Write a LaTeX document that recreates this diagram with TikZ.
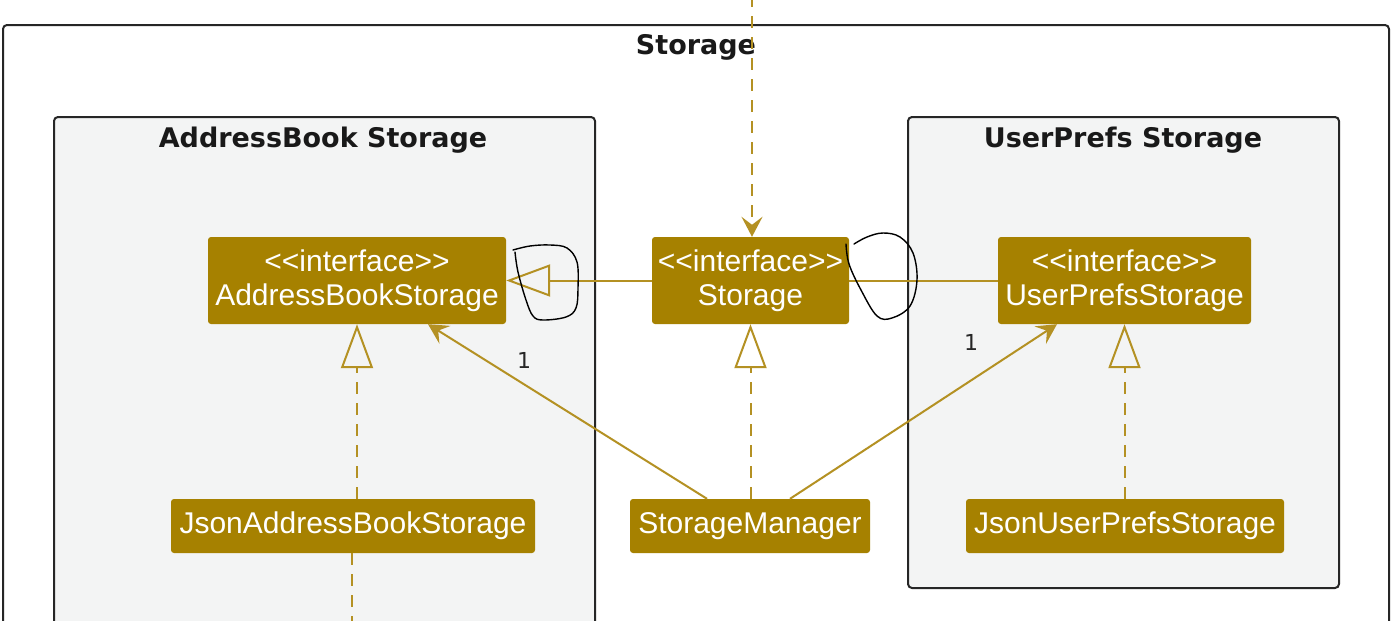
\documentclass[tikz,border=0pt]{standalone}
\usepackage{fontspec}
\setmainfont{Liberation Sans}[Ligatures=TeXOff]
\newfontfamily\ttlfont{DejaVu Sans}
\usetikzlibrary{arrows.meta}
\definecolor{clsfill}{RGB}{166,129,0}
\definecolor{clsline}{RGB}{180,145,35}
\definecolor{pkgfill}{RGB}{243,244,244}
\tikzset{
  pkgframe/.style={draw=black!85, line width=2pt, rounded corners=4pt},
  pkgtitle/.style={font=\ttlfont\bfseries\fontsize{27}{30}\selectfont, text=black!90},
  cls/.style={fill=clsfill, rounded corners=3pt, text=white, align=center,
    inner sep=0pt, font=\fontsize{30}{34}\selectfont},
  link/.style={draw=clsline, line width=2pt},
  realize/.style={link, dash pattern=on 12pt off 9pt,
    -{Triangle[open, length=44pt, width=32pt, line width=2pt]}},
  inherit/.style={link, -{Triangle[open, length=44pt, width=32pt, line width=2pt]}},
  uses/.style={link, -{Stealth[length=20pt, width=21pt, inset=8pt]}},
  usesdash/.style={uses, dash pattern=on 12pt off 9pt},
  mult/.style={font=\ttlfont\fontsize{22}{24}\selectfont, text=black!85},
  handpen/.style={draw=black, line width=1.4pt, line cap=round, line join=round}
}
\begin{document}
\begin{tikzpicture}[x=1pt, y=-1pt]
  \useasboundingbox (0,0) rectangle (1392,621);
  \clip (0,0) rectangle (1392,621);

  % package frames
  \draw[pkgframe, fill=white] (3,25) rectangle (1389,680);
  \node[pkgtitle] (storagetitle) at (696,47) {Storage};
  \draw[pkgframe, fill=pkgfill] (54,117) rectangle (595,680);
  \node[pkgtitle] (abtitle) at (323,140) {AddressBook Storage};
  \draw[pkgframe, fill=pkgfill] (908,117) rectangle (1339,588);
  \node[pkgtitle] (uptitle) at (1123,140) {UserPrefs Storage};

  % classes
  \node[cls, minimum width=298pt, minimum height=87pt] (abs) at (357,280.5)
    {<<interface>>\\AddressBookStorage};
  \node[cls, minimum width=197pt, minimum height=87pt] (storage) at (750.5,280.5)
    {<<interface>>\\Storage};
  \node[cls, minimum width=253pt, minimum height=87pt] (ups) at (1124.5,280.5)
    {<<interface>>\\UserPrefsStorage};
  \node[cls, minimum width=364pt, minimum height=54pt] (jab) at (353,526)
    {JsonAddressBookStorage};
  \node[cls, minimum width=240pt, minimum height=54pt] (sm) at (750,526)
    {StorageManager};
  \node[cls, minimum width=318pt, minimum height=54pt] (jups) at (1125,526)
    {JsonUserPrefsStorage};

  % free ends of connectors leaving the page
  \coordinate (topin) at (752,-5);
  \coordinate (jabout) at (352,630);

  % connectors
  \draw[usesdash] (topin) -- ([xshift=1.5pt]storage.north);
  \draw[inherit] (storage.west) -- (abs.east);
  \draw[link] (storage.east) -- (ups.west);
  \draw[realize] (jab.north -| abs.south) -- (abs.south);
  \draw[link, dash pattern=on 12pt off 9pt] (jab.south -| jabout) -- (jabout);
  \draw[realize] (sm.north -| storage.south) -- (storage.south);
  \draw[realize] (jups.north -| ups.south) -- (ups.south);
  \draw[uses] ([xshift=-43pt]sm.north) -- ([xshift=71pt]abs.south);
  \draw[uses] ([xshift=40pt]sm.north) -- ([xshift=-67.5pt]ups.south);
  \node[mult] (m1) at (524,360) {1};
  \node[mult] (m2) at (971,342) {1};

  % pen marks around the arrow ends
  \draw[handpen] plot[smooth, tension=0.6] coordinates
    {(513,250) (530,246) (550,245) (567,248) (577,262) (578,288) (576,308)
     (566,317) (543,320) (533,316) (526,300) (518,272) (515,252)};
  \draw[handpen] plot[smooth, tension=0.6] coordinates
    {(846,244) (849,264) (861,290) (877,316) (892,318) (910,306) (917,280)
     (913,253) (900,237) (883,233) (867,237) (854,244)};
\end{tikzpicture}
\end{document}
